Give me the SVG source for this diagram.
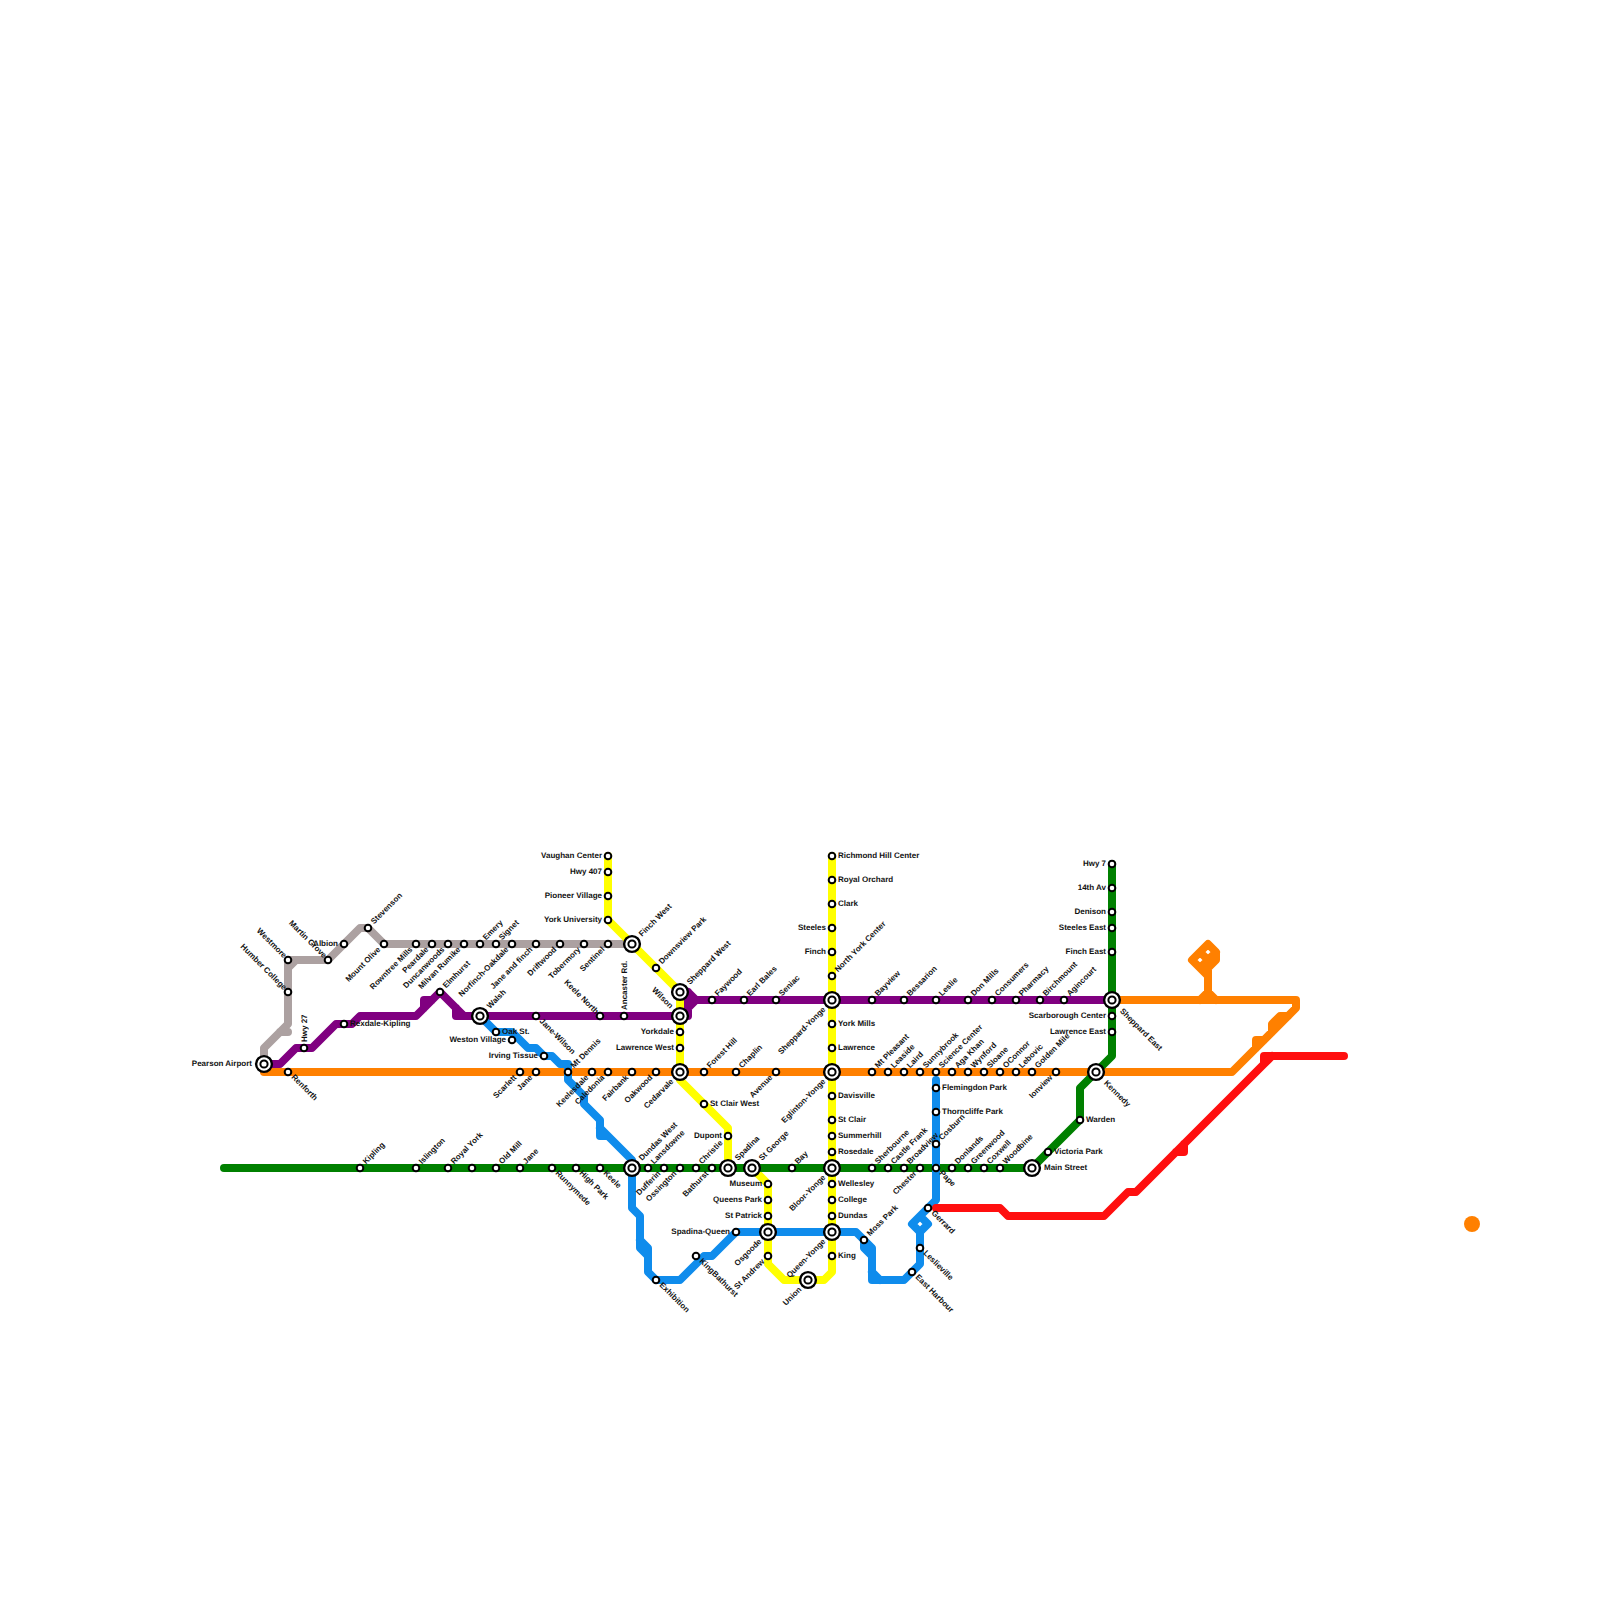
<svg xmlns="http://www.w3.org/2000/svg" width="1600" height="1600" viewBox="0 0 1600 1600">
<style>
text{font:bold 8px "Liberation Sans",Arial,sans-serif;fill:#111;text-rendering:geometricPrecision}
.ln{fill:none;stroke-width:8;stroke-linecap:round;stroke-linejoin:round}
.gy{stroke:#aca1a1}.yl{stroke:#ff0}.pu{stroke:#800080}.or{stroke:#ff8000}.gn{stroke:#008000}.bl{stroke:#0f8cec}.rd{stroke:#ff0f0f}
.s{fill:#fff;stroke:#000;stroke-width:2}
.o{stroke-width:2.4}
.r{transform:translate(6px,1.8px)}
.l{text-anchor:end;transform:translate(-6px,1.8px)}
.ur{transform:translate(6px,-3.5px) rotate(-45deg)}
.ul{text-anchor:end;transform:translate(-4.5px,-1.5px) rotate(45deg)}
.dl{text-anchor:end;transform:translate(-3px,6px) rotate(-45deg)}
.dr{transform:translate(3px,5.5px) rotate(45deg)}
.u{transform:translate(2.5px,-6px) rotate(-90deg)}
.xr{transform:translate(12px,1.8px)}
.xl{text-anchor:end;transform:translate(-12px,1.8px)}
.xur{transform:translate(10px,-7px) rotate(-45deg)}
.xul{text-anchor:end;transform:translate(-10px,-7px) rotate(45deg)}
.xdl{text-anchor:end;transform:translate(-6px,10px) rotate(-45deg)}
.xdr{transform:translate(7.5px,11.5px) rotate(45deg)}
</style>
<defs>
<circle id="st" class="s" r="3.3"/>
<g id="ix"><circle class="s o" r="7.9"/><circle class="s" r="3.6"/></g>
</defs>
<g id="connectors">
<path id="line-gray" class="ln gy" d="M264 1064V1048L288 1024V968L296 960H328L360 928H368L384 944H632M280 1032H288M288 968V960H296"/>
<path id="line-yellow" class="ln yl" d="M608 856V920L680 992V1080L728 1128V1168M752 1168L768 1184V1264L784 1280H824L832 1272V856"/>
<path id="line-purple" class="ln pu" d="M264 1064H280L296 1048H312L336 1024H352L360 1016H416L440 992L464 1016H688V992H680M424 1008V1000H432M456 1008V1016H464M688 1008L696 1000M688 992L696 1000H1112"/>
<path id="line-orange" class="ln or" d="M264 1072H1232L1296 1008V1000H1112M1256 1048V1040H1264M1272 1032V1024L1280 1016H1288M1200 1000L1208 992L1216 1000M1208 992V976L1192 960L1208 944L1216 952V960L1208 968M1200 952L1208 960L1200 968M1216 952L1208 960V976"/>
<circle id="line-orange-dot" cx="1472" cy="1224" r="8" fill="#ff8000"/>
<path id="line-green" class="ln gn" d="M224 1168H1032L1080 1120V1088L1112 1056V864"/>
<path id="line-blue" class="ln bl" d="M480 1016L496 1032H512L528 1048H536L544 1056H552L560 1064H568V1080L584 1096V1104L600 1120V1136H608L632 1160V1208L640 1216V1248L648 1256V1272L656 1280H680L704 1256H712L736 1232H856L864 1240V1248L872 1256V1280H904L920 1264V1232L912 1224L928 1208L936 1200V1080M600 1128L608 1136M640 1240L648 1248V1256M864 1240L872 1248V1256M872 1272L880 1280M920 1232L928 1224L920 1216L912 1224"/>
<path id="line-red" class="ln rd" d="M936 1208H1000L1008 1216H1104L1128 1192H1136L1264 1064V1056H1344M1264 1064L1272 1056M1184 1144V1152H1176"/>
</g>
<g id="nodes">
<g id="n001" transform="translate(264 1064)"><use href="#ix"/><text class="xl">Pearson Airport</text></g>
<g id="n002" transform="translate(288 992)"><use href="#st"/><text class="ul">Humber College</text></g>
<g id="n003" transform="translate(288 960)"><use href="#st"/><text class="ul">Westmore</text></g>
<g id="n004" transform="translate(328 960)"><use href="#st"/><text class="ul">Martin Grove</text></g>
<g id="n005" transform="translate(344 944)"><use href="#st"/><text class="l">Albion</text></g>
<g id="n006" transform="translate(368 928)"><use href="#st"/><text class="ur">Stevenson</text></g>
<g id="n007" transform="translate(384 944)"><use href="#st"/><text class="dl">Mount Olive</text></g>
<g id="n008" transform="translate(416 944)"><use href="#st"/><text class="dl">Rowntree Mills</text></g>
<g id="n009" transform="translate(432 944)"><use href="#st"/><text class="dl">Peardale</text></g>
<g id="n010" transform="translate(448 944)"><use href="#st"/><text class="dl">Duncanwoods</text></g>
<g id="n011" transform="translate(464 944)"><use href="#st"/><text class="dl">Milvan Rumike</text></g>
<g id="n012" transform="translate(480 944)"><use href="#st"/><text class="ur">Emery</text></g>
<g id="n013" transform="translate(496 944)"><use href="#st"/><text class="ur">Signet</text></g>
<g id="n014" transform="translate(512 944)"><use href="#st"/><text class="dl">Norfinch-Oakdale</text></g>
<g id="n015" transform="translate(536 944)"><use href="#st"/><text class="dl">Jane and finch</text></g>
<g id="n016" transform="translate(560 944)"><use href="#st"/><text class="dl">Driftwood</text></g>
<g id="n017" transform="translate(584 944)"><use href="#st"/><text class="dl">Tobermory</text></g>
<g id="n018" transform="translate(608 944)"><use href="#st"/><text class="dl">Sentinel</text></g>
<g id="n019" transform="translate(632 944)"><use href="#ix"/><text class="xur">Finch West</text></g>
<g id="n020" transform="translate(304 1048)"><use href="#st"/><text class="u">Hwy 27</text></g>
<g id="n021" transform="translate(344 1024)"><use href="#st"/><text class="r">Rexdale-Kipling</text></g>
<g id="n022" transform="translate(440 992)"><use href="#st"/><text class="ur">Elmhurst</text></g>
<g id="n023" transform="translate(480 1016)"><use href="#ix"/><text class="xur">Walsh</text></g>
<g id="n024" transform="translate(536 1016)"><use href="#st"/><text class="dr">Jane-Wilson</text></g>
<g id="n025" transform="translate(600 1016)"><use href="#st"/><text class="ul">Keele North</text></g>
<g id="n026" transform="translate(624 1016)"><use href="#st"/><text class="u">Ancaster Rd.</text></g>
<g id="n027" transform="translate(680 1016)"><use href="#ix"/><text class="xul">Wilson</text></g>
<g id="n028" transform="translate(680 992)"><use href="#ix"/><text class="xur">Sheppard West</text></g>
<g id="n029" transform="translate(712 1000)"><use href="#st"/><text class="ur">Faywood</text></g>
<g id="n030" transform="translate(744 1000)"><use href="#st"/><text class="ur">Earl Bales</text></g>
<g id="n031" transform="translate(776 1000)"><use href="#st"/><text class="ur">Seniac</text></g>
<g id="n032" transform="translate(832 1000)"><use href="#ix"/><text class="xdl">Sheppard-Yonge</text></g>
<g id="n033" transform="translate(872 1000)"><use href="#st"/><text class="ur">Bayview</text></g>
<g id="n034" transform="translate(904 1000)"><use href="#st"/><text class="ur">Bessarion</text></g>
<g id="n035" transform="translate(936 1000)"><use href="#st"/><text class="ur">Leslie</text></g>
<g id="n036" transform="translate(968 1000)"><use href="#st"/><text class="ur">Don Mills</text></g>
<g id="n037" transform="translate(992 1000)"><use href="#st"/><text class="ur">Consumers</text></g>
<g id="n038" transform="translate(1016 1000)"><use href="#st"/><text class="ur">Pharmacy</text></g>
<g id="n039" transform="translate(1040 1000)"><use href="#st"/><text class="ur">Birchmount</text></g>
<g id="n040" transform="translate(1064 1000)"><use href="#st"/><text class="ur">Agincourt</text></g>
<g id="n041" transform="translate(1112 1000)"><use href="#ix"/><text class="xdr">Sheppard East</text></g>
<g id="n042" transform="translate(496 1032)"><use href="#st"/><text class="r">Oak St.</text></g>
<g id="n043" transform="translate(512 1040)"><use href="#st"/><text class="l">Weston Village</text></g>
<g id="n044" transform="translate(544 1056)"><use href="#st"/><text class="l">Irving Tissue</text></g>
<g id="n045" transform="translate(568 1072)"><use href="#st"/><text class="ur">Mt Dennis</text></g>
<g id="n046" transform="translate(656 1280)"><use href="#st"/><text class="dr">Exhibition</text></g>
<g id="n047" transform="translate(696 1256)"><use href="#st"/><text class="dr">KingBathurst</text></g>
<g id="n048" transform="translate(736 1232)"><use href="#st"/><text class="l">Spadina-Queen</text></g>
<g id="n049" transform="translate(768 1232)"><use href="#ix"/><text class="xdl">Osgoode</text></g>
<g id="n050" transform="translate(768 1256)"><use href="#st"/><text class="dl">St Andrew</text></g>
<g id="n051" transform="translate(808 1280)"><use href="#ix"/><text class="xdl">Union</text></g>
<g id="n052" transform="translate(832 1232)"><use href="#ix"/><text class="xdl">Queen-Yonge</text></g>
<g id="n053" transform="translate(832 1256)"><use href="#st"/><text class="r">King</text></g>
<g id="n054" transform="translate(864 1240)"><use href="#st"/><text class="ur">Moss Park</text></g>
<g id="n055" transform="translate(928 1208)"><use href="#st"/><text class="dr">Gerrard</text></g>
<g id="n056" transform="translate(920 1248)"><use href="#st"/><text class="dr">Leslieville</text></g>
<g id="n057" transform="translate(912 1272)"><use href="#st"/><text class="dr">East Harbour</text></g>
<g id="n058" transform="translate(936 1088)"><use href="#st"/><text class="r">Flemingdon Park</text></g>
<g id="n059" transform="translate(936 1112)"><use href="#st"/><text class="r">Thorncliffe Park</text></g>
<g id="n060" transform="translate(936 1144)"><use href="#st"/><text class="ur">Cosburn</text></g>
<g id="n061" transform="translate(608 856)"><use href="#st"/><text class="l">Vaughan Center</text></g>
<g id="n062" transform="translate(608 872)"><use href="#st"/><text class="l">Hwy 407</text></g>
<g id="n063" transform="translate(608 896)"><use href="#st"/><text class="l">Pioneer Village</text></g>
<g id="n064" transform="translate(608 920)"><use href="#st"/><text class="l">York University</text></g>
<g id="n065" transform="translate(656 968)"><use href="#st"/><text class="ur">Downsview Park</text></g>
<g id="n066" transform="translate(680 1032)"><use href="#st"/><text class="l">Yorkdale</text></g>
<g id="n067" transform="translate(680 1048)"><use href="#st"/><text class="l">Lawrence West</text></g>
<g id="n068" transform="translate(680 1072)"><use href="#ix"/><text class="xdl">Cedarvale</text></g>
<g id="n069" transform="translate(704 1072)"><use href="#st"/><text class="ur">Forest Hill</text></g>
<g id="n070" transform="translate(736 1072)"><use href="#st"/><text class="ur">Chaplin</text></g>
<g id="n071" transform="translate(776 1072)"><use href="#st"/><text class="dl">Avenue</text></g>
<g id="n072" transform="translate(704 1104)"><use href="#st"/><text class="r">St Clair West</text></g>
<g id="n073" transform="translate(728 1136)"><use href="#st"/><text class="l">Dupont</text></g>
<g id="n074" transform="translate(728 1168)"><use href="#ix"/><text class="xur">Spadina</text></g>
<g id="n075" transform="translate(752 1168)"><use href="#ix"/><text class="xur">St George</text></g>
<g id="n076" transform="translate(768 1184)"><use href="#st"/><text class="l">Museum</text></g>
<g id="n077" transform="translate(768 1200)"><use href="#st"/><text class="l">Queens Park</text></g>
<g id="n078" transform="translate(768 1216)"><use href="#st"/><text class="l">St Patrick</text></g>
<g id="n079" transform="translate(792 1168)"><use href="#st"/><text class="ur">Bay</text></g>
<g id="n080" transform="translate(832 856)"><use href="#st"/><text class="r">Richmond Hill Center</text></g>
<g id="n081" transform="translate(832 880)"><use href="#st"/><text class="r">Royal Orchard</text></g>
<g id="n082" transform="translate(832 904)"><use href="#st"/><text class="r">Clark</text></g>
<g id="n083" transform="translate(832 928)"><use href="#st"/><text class="l">Steeles</text></g>
<g id="n084" transform="translate(832 952)"><use href="#st"/><text class="l">Finch</text></g>
<g id="n085" transform="translate(832 976)"><use href="#st"/><text class="ur">North York Center</text></g>
<g id="n086" transform="translate(832 1024)"><use href="#st"/><text class="r">York Mills</text></g>
<g id="n087" transform="translate(832 1048)"><use href="#st"/><text class="r">Lawrence</text></g>
<g id="n088" transform="translate(832 1072)"><use href="#ix"/><text class="xdl">Eglinton-Yonge</text></g>
<g id="n089" transform="translate(832 1096)"><use href="#st"/><text class="r">Davisville</text></g>
<g id="n090" transform="translate(832 1120)"><use href="#st"/><text class="r">St Clair</text></g>
<g id="n091" transform="translate(832 1136)"><use href="#st"/><text class="r">Summerhill</text></g>
<g id="n092" transform="translate(832 1152)"><use href="#st"/><text class="r">Rosedale</text></g>
<g id="n093" transform="translate(832 1168)"><use href="#ix"/><text class="xdl">Bloor-Yonge</text></g>
<g id="n094" transform="translate(832 1184)"><use href="#st"/><text class="r">Wellesley</text></g>
<g id="n095" transform="translate(832 1200)"><use href="#st"/><text class="r">College</text></g>
<g id="n096" transform="translate(832 1216)"><use href="#st"/><text class="r">Dundas</text></g>
<g id="n097" transform="translate(288 1072)"><use href="#st"/><text class="dr">Renforth</text></g>
<g id="n098" transform="translate(520 1072)"><use href="#st"/><text class="dl">Scarlett</text></g>
<g id="n099" transform="translate(536 1072)"><use href="#st"/><text class="dl">Jane</text></g>
<g id="n100" transform="translate(592 1072)"><use href="#st"/><text class="dl">Keelesdale</text></g>
<g id="n101" transform="translate(608 1072)"><use href="#st"/><text class="dl">Caledonia</text></g>
<g id="n102" transform="translate(632 1072)"><use href="#st"/><text class="dl">Fairbank</text></g>
<g id="n103" transform="translate(656 1072)"><use href="#st"/><text class="dl">Oakwood</text></g>
<g id="n104" transform="translate(872 1072)"><use href="#st"/><text class="ur">Mt Pleasant</text></g>
<g id="n105" transform="translate(888 1072)"><use href="#st"/><text class="ur">Leaside</text></g>
<g id="n106" transform="translate(904 1072)"><use href="#st"/><text class="ur">Laird</text></g>
<g id="n107" transform="translate(920 1072)"><use href="#st"/><text class="ur">Sunnybrook</text></g>
<g id="n108" transform="translate(936 1072)"><use href="#st"/><text class="ur">Science Center</text></g>
<g id="n109" transform="translate(952 1072)"><use href="#st"/><text class="ur">Aga Khan</text></g>
<g id="n110" transform="translate(968 1072)"><use href="#st"/><text class="ur">Wynford</text></g>
<g id="n111" transform="translate(984 1072)"><use href="#st"/><text class="ur">Sloane</text></g>
<g id="n112" transform="translate(1000 1072)"><use href="#st"/><text class="ur">OConnor</text></g>
<g id="n113" transform="translate(1016 1072)"><use href="#st"/><text class="ur">Lebovic</text></g>
<g id="n114" transform="translate(1032 1072)"><use href="#st"/><text class="ur">Golden Mile</text></g>
<g id="n115" transform="translate(1056 1072)"><use href="#st"/><text class="dl">Ionview</text></g>
<g id="n116" transform="translate(1096 1072)"><use href="#ix"/><text class="xdr">Kennedy</text></g>
<g id="n117" transform="translate(360 1168)"><use href="#st"/><text class="ur">Kipling</text></g>
<g id="n118" transform="translate(416 1168)"><use href="#st"/><text class="ur">Islington</text></g>
<g id="n119" transform="translate(448 1168)"><use href="#st"/><text class="ur">Royal York</text></g>
<g id="n120" transform="translate(472 1168)"><use href="#st"/></g>
<g id="n121" transform="translate(496 1168)"><use href="#st"/><text class="ur">Old Mill</text></g>
<g id="n122" transform="translate(520 1168)"><use href="#st"/><text class="ur">Jane</text></g>
<g id="n123" transform="translate(552 1168)"><use href="#st"/><text class="dr">Runnymede</text></g>
<g id="n124" transform="translate(576 1168)"><use href="#st"/><text class="dr">High Park</text></g>
<g id="n125" transform="translate(600 1168)"><use href="#st"/><text class="dr">Keele</text></g>
<g id="n126" transform="translate(632 1168)"><use href="#ix"/><text class="xur">Dundas West</text></g>
<g id="n127" transform="translate(648 1168)"><use href="#st"/><text class="ur">Lansdowne</text></g>
<g id="n128" transform="translate(664 1168)"><use href="#st"/><text class="dl">Dufferin</text></g>
<g id="n129" transform="translate(680 1168)"><use href="#st"/><text class="dl">Ossington</text></g>
<g id="n130" transform="translate(696 1168)"><use href="#st"/><text class="ur">Christie</text></g>
<g id="n131" transform="translate(712 1168)"><use href="#st"/><text class="dl">Bathurst</text></g>
<g id="n132" transform="translate(872 1168)"><use href="#st"/><text class="ur">Sherbourne</text></g>
<g id="n133" transform="translate(888 1168)"><use href="#st"/><text class="ur">Castle Frank</text></g>
<g id="n134" transform="translate(904 1168)"><use href="#st"/><text class="ur">Broadview</text></g>
<g id="n135" transform="translate(920 1168)"><use href="#st"/><text class="dl">Chester</text></g>
<g id="n136" transform="translate(936 1168)"><use href="#st"/><text class="dr">Pape</text></g>
<g id="n137" transform="translate(952 1168)"><use href="#st"/><text class="ur">Donlands</text></g>
<g id="n138" transform="translate(968 1168)"><use href="#st"/><text class="ur">Greenwood</text></g>
<g id="n139" transform="translate(984 1168)"><use href="#st"/><text class="ur">Coxwell</text></g>
<g id="n140" transform="translate(1000 1168)"><use href="#st"/><text class="ur">Woodbine</text></g>
<g id="n141" transform="translate(1032 1168)"><use href="#ix"/><text class="xr">Main Street</text></g>
<g id="n142" transform="translate(1048 1152)"><use href="#st"/><text class="r">Victoria Park</text></g>
<g id="n143" transform="translate(1080 1120)"><use href="#st"/><text class="r">Warden</text></g>
<g id="n144" transform="translate(1112 1032)"><use href="#st"/><text class="l">Lawrence East</text></g>
<g id="n145" transform="translate(1112 1016)"><use href="#st"/><text class="l">Scarborough Center</text></g>
<g id="n146" transform="translate(1112 952)"><use href="#st"/><text class="l">Finch East</text></g>
<g id="n147" transform="translate(1112 928)"><use href="#st"/><text class="l">Steeles East</text></g>
<g id="n148" transform="translate(1112 912)"><use href="#st"/><text class="l">Denison</text></g>
<g id="n149" transform="translate(1112 888)"><use href="#st"/><text class="l">14th Av</text></g>
<g id="n150" transform="translate(1112 864)"><use href="#st"/><text class="l">Hwy 7</text></g>
</g>
</svg>
